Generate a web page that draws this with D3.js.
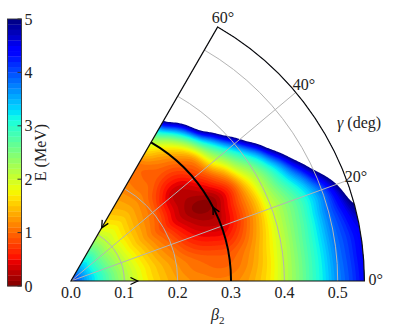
<!DOCTYPE html>
<html>
<head>
<meta charset="utf-8">
<script src="https://cdn.jsdelivr.net/npm/d3@7"></script>
<style>
body { margin: 0; background: #fff; }
text { font-family: "Liberation Serif", "DejaVu Serif", serif; fill: #222; }
</style>
</head>
<body>
<div id="chart"></div>
<script>
// energy surface E(beta2, gamma), MeV (values past the white edge just mean "above 5")
var betas = [0, 0.025, 0.05, 0.075, 0.1, 0.125, 0.15, 0.175, 0.2, 0.225, 0.25, 0.275,
             0.3, 0.325, 0.35, 0.375, 0.4, 0.425, 0.45, 0.475, 0.5, 0.525, 0.55];
var gammas = [0, 5, 10, 15, 20, 25, 30, 35, 40, 45, 50, 55, 60];
var energy = [
  [4.2, 3.6, 3.1, 2.65, 2.25, 1.92, 1.65, 1.45, 1.3, 1.2, 1.15, 1.12, 1.15, 1.25, 1.45, 1.72, 2.1, 2.45, 2.85, 3.25, 3.7, 4.05, 4.4],
  [4.2, 3.6, 3.1, 2.63, 2.22, 1.9, 1.62, 1.42, 1.25, 1.12, 1.05, 1.0, 1.02, 1.15, 1.38, 1.68, 2.08, 2.45, 2.85, 3.27, 3.75, 4.1, 4.45],
  [4.2, 3.6, 3.1, 2.62, 2.2, 1.88, 1.6, 1.38, 1.2, 1.05, 0.95, 0.9, 0.9, 1.05, 1.3, 1.65, 2.05, 2.45, 2.85, 3.3, 3.8, 4.15, 4.5],
  [4.2, 3.6, 3.08, 2.58, 2.18, 1.84, 1.55, 1.3, 1.1, 0.88, 0.72, 0.64, 0.62, 0.82, 1.15, 1.55, 2.02, 2.42, 2.8, 3.3, 3.85, 4.35, 4.95],
  [4.2, 3.6, 3.05, 2.55, 2.15, 1.8, 1.5, 1.23, 1.0, 0.72, 0.5, 0.38, 0.35, 0.6, 1.0, 1.45, 2.0, 2.4, 2.8, 3.3, 3.92, 4.8, 5.75],
  [4.2, 3.6, 3.02, 2.52, 2.12, 1.76, 1.45, 1.16, 0.9, 0.58, 0.33, 0.18, 0.2, 0.5, 0.95, 1.45, 2.1, 2.63, 3.21, 3.97, 5.09, 6.2, 7.3],
  [4.2, 3.6, 3.0, 2.5, 2.1, 1.72, 1.4, 1.1, 0.8, 0.45, 0.2, 0.05, 0.1, 0.4, 0.9, 1.63, 2.28, 2.97, 3.96, 5.41, 6.9, 8.4, 9.8],
  [4.2, 3.6, 3.0, 2.49, 2.08, 1.72, 1.42, 1.16, 0.9, 0.52, 0.25, 0.2, 0.37, 0.75, 1.3, 2.15, 2.88, 3.95, 5.7, 7.5, 9.3, 10, 10],
  [4.2, 3.6, 3.0, 2.48, 2.05, 1.72, 1.45, 1.22, 1.0, 0.6, 0.3, 0.35, 0.65, 1.1, 1.94, 2.79, 4.0, 5.9, 7.8, 9.7, 10, 10, 10],
  [4.2, 3.6, 3.05, 2.52, 2.08, 1.76, 1.5, 1.28, 1.08, 0.8, 0.6, 0.65, 0.9, 1.3, 2.44, 3.83, 5.85, 7.9, 10, 10, 10, 10, 10],
  [4.2, 3.6, 3.1, 2.55, 2.1, 1.8, 1.55, 1.33, 1.15, 1.0, 0.9, 0.95, 1.2, 1.8, 3.17, 5.45, 7.7, 10, 10, 10, 10, 10, 10],
  [4.2, 3.6, 3.05, 2.55, 2.08, 1.75, 1.5, 1.32, 1.15, 1.04, 0.98, 1.2, 1.6, 2.47, 4.09, 6.4, 8.7, 10, 10, 10, 10, 10, 10],
  [4.2, 3.6, 3.0, 2.55, 2.05, 1.7, 1.45, 1.3, 1.15, 1.08, 1.05, 1.48, 2.07, 3.25, 5.3, 7.8, 10, 10, 10, 10, 10, 10, 10]
];
var levels = [0, 0.1, 0.2, 0.3, 0.4, 0.5, 0.6, 0.7, 0.8, 0.9, 1.0, 1.1, 1.2, 1.3, 1.4, 1.5, 1.6, 1.7,
              1.8, 1.9, 2.0, 2.1, 2.2, 2.3, 2.4, 2.5, 2.6, 2.7, 2.8, 2.9, 3.0, 3.1, 3.2, 3.3, 3.4,
              3.5, 3.6, 3.7, 3.8, 3.9, 4.0, 4.1, 4.2, 4.3, 4.4, 4.5, 4.6, 4.7, 4.8, 4.9, 5.0];
var betaTicks = [0, 0.1, 0.2, 0.3, 0.4, 0.5];
var gridBetas = [0.1, 0.2, 0.3, 0.4, 0.5];
var gridGammas = [20, 40];
var gammaTicks = [0, 20, 40, 60];
var cbarTicks = [0, 1, 2, 3, 4, 5];
var loopBeta = 0.3;

var svgWidth = 399;
var svgHeight = 329;
var betaMax = 0.55, gammaMax = 60, eMax = 5;
var origin = {x: 71, y: 281};

var svg = d3.select("#chart").append("svg")
  .attr("width", svgWidth)
  .attr("height", svgHeight);

var rScale = d3.scaleLinear().domain([0, betaMax]).range([0, 293.4]);

function polar(b, g) {
  var a = g * Math.PI / 180;
  return [origin.x + rScale(b) * Math.cos(a), origin.y - rScale(b) * Math.sin(a)];
}

// matplotlib jet, reversed
var jetR = d3.scaleLinear().domain([0, 0.35, 0.66, 0.89, 1]).range([0, 0, 1, 1, 0.5]).clamp(true);
var jetG = d3.scaleLinear().domain([0, 0.125, 0.375, 0.64, 0.91, 1]).range([0, 0, 1, 1, 0, 0]).clamp(true);
var jetB = d3.scaleLinear().domain([0, 0.11, 0.34, 0.65, 1]).range([0.5, 1, 1, 0, 0]).clamp(true);
var color = d3.scaleSequential(function(t) {
  var u = 1 - t;
  return d3.rgb(255 * jetR(u), 255 * jetG(u), 255 * jetB(u)).toString();
}).domain([0, eMax]);

// smooth (catmull-rom) lookup in the read grid
function cr(p0, p1, p2, p3, t) {
  return p1 + 0.5 * t * (p2 - p0 + t * (2 * p0 - 5 * p1 + 4 * p2 - p3 + t * (3 * (p1 - p2) + p3 - p0)));
}
function at(j, i) {
  j = Math.max(0, Math.min(gammas.length - 1, j));
  i = Math.max(0, Math.min(betas.length - 1, i));
  return energy[j][i];
}
function sampleE(b, g) {
  var fi = b / (betas[1] - betas[0]), fj = g / (gammas[1] - gammas[0]);
  var i = Math.min(Math.floor(fi), betas.length - 2), j = Math.min(Math.floor(fj), gammas.length - 2);
  var ti = fi - i, tj = fj - j;
  var rows = [];
  for (var k = -1; k <= 2; k++) {
    rows.push(cr(at(j + k, i - 1), at(j + k, i), at(j + k, i + 1), at(j + k, i + 2), ti));
  }
  return cr(rows[0], rows[1], rows[2], rows[3], tj);
}

var nb = 221, ng = 121;
var db = betaMax / (nb - 1), dg = gammaMax / (ng - 1);
var values = new Array(nb * ng);
for (var y = 0; y < ng; y++) {
  for (var x = 0; x < nb; x++) {
    values[y * nb + x] = sampleE(x * db, y * dg);
  }
}

var contours = d3.contours().size([nb, ng]).thresholds(levels)(values);

function ringPath(ring) {
  return "M" + ring.map(function(p) {
    var b = Math.max(0, Math.min(betaMax, (p[0] - 0.5) * db));
    var g = Math.max(0, Math.min(gammaMax, (p[1] - 0.5) * dg));
    return polar(b, g).join(",");
  }).join("L") + "Z";
}

// clip to the sector
var sector = d3.path();
sector.moveTo(origin.x, origin.y);
sector.lineTo(polar(betaMax, 0)[0], polar(betaMax, 0)[1]);
sector.arc(origin.x, origin.y, rScale(betaMax), 0, -Math.PI / 3, true);
sector.closePath();

svg.append("clipPath").attr("id", "sec")
  .append("path").attr("d", sector.toString());

var surf = svg.append("g").attr("clip-path", "url(#sec)");
surf.selectAll("path")
  .data(contours)
  .enter().append("path")
  .attr("d", function(c) {
    return c.coordinates.map(function(poly) { return poly.map(ringPath).join(""); }).join("");
  })
  .attr("fill-rule", "evenodd")
  .attr("fill", function(c) { return c.value >= eMax ? "#fff" : color(c.value + 0.05); });

// grid
var grid = svg.append("g").attr("fill", "none").attr("stroke", "#b4b4b4").attr("stroke-width", 1);
gridBetas.forEach(function(b) {
  var p = d3.path();
  var s = polar(b, 0);
  p.moveTo(s[0], s[1]);
  p.arc(origin.x, origin.y, rScale(b), 0, -Math.PI / 3, true);
  grid.append("path").attr("d", p.toString());
});
gridGammas.forEach(function(g) {
  var e = polar(betaMax, g);
  grid.append("line")
    .attr("x1", origin.x).attr("y1", origin.y)
    .attr("x2", e[0]).attr("y2", e[1]);
});

// sector outline
svg.append("path")
  .attr("d", sector.toString())
  .attr("fill", "none")
  .attr("stroke", "#111")
  .attr("stroke-width", 1.2);

// the closed loop at beta = 0.3
var loop = d3.path();
var l0 = polar(loopBeta, 0);
loop.moveTo(l0[0], l0[1]);
loop.arc(origin.x, origin.y, rScale(loopBeta), 0, -Math.PI / 3, true);
svg.append("path")
  .attr("d", loop.toString())
  .attr("fill", "none")
  .attr("stroke", "#000")
  .attr("stroke-width", 2);

function chevron(tip, ang) {
  var L = 8, th = 26 * Math.PI / 180;
  var a1 = ang + Math.PI - th, a2 = ang + Math.PI + th;
  return "M" + (tip[0] + L * Math.cos(a1)) + "," + (tip[1] + L * Math.sin(a1)) +
    "L" + tip[0] + "," + tip[1] +
    "L" + (tip[0] + L * Math.cos(a2)) + "," + (tip[1] + L * Math.sin(a2));
}
var ga = 27.5 * Math.PI / 180;
var arrows = [
  {tip: polar(0.125, 0), ang: 0},
  {tip: polar(0.115, 60), ang: Math.atan2(Math.sin(Math.PI / 3), -Math.cos(Math.PI / 3))},
  {tip: polar(loopBeta, 27.5), ang: Math.atan2(-Math.cos(ga), -Math.sin(ga))}
];
svg.append("g").selectAll("path")
  .data(arrows)
  .enter().append("path")
  .attr("d", function(d) { return chevron(d.tip, d.ang); })
  .attr("fill", "none")
  .attr("stroke", "#000")
  .attr("stroke-width", 1.3);

// beta tick labels
svg.append("g").selectAll("text")
  .data(betaTicks)
  .enter().append("text")
  .attr("x", function(d) { return polar(d, 0)[0]; })
  .attr("y", origin.y + 17)
  .attr("text-anchor", "middle")
  .attr("font-size", 16)
  .text(function(d) { return d.toFixed(1); });

var bl = svg.append("text")
  .attr("x", polar(betaMax / 2, 0)[0])
  .attr("y", 320)
  .attr("text-anchor", "middle")
  .attr("font-size", 16);
bl.append("tspan").attr("font-style", "italic").text("β");
bl.append("tspan").attr("font-size", 11).attr("dy", 4).text("2");

// gamma labels
var gOff = {0: [4, 4], 20: [-2, 1], 40: [-3, -2], 60: [-6, -4]};
svg.append("g").selectAll("text")
  .data(gammaTicks)
  .enter().append("text")
  .attr("x", function(d) { return polar(betaMax, d)[0] + gOff[d][0]; })
  .attr("y", function(d) { return polar(betaMax, d)[1] + gOff[d][1]; })
  .attr("font-size", 16)
  .text(function(d) { return d + "°"; });

var gl = svg.append("text")
  .attr("x", 337)
  .attr("y", 128)
  .attr("font-size", 16);
gl.append("tspan").attr("font-style", "italic").text("γ");
gl.append("tspan").text(" (deg)");

// colorbar
var cb = {x: 7.5, w: 14};
var cScale = d3.scaleLinear().domain([0, eMax]).range([286, 19]);
var cbar = svg.append("g");
cbar.selectAll("rect")
  .data(levels.slice(0, -1))
  .enter().append("rect")
  .attr("x", cb.x)
  .attr("y", function(d) { return cScale(d + 0.1); })
  .attr("width", cb.w)
  .attr("height", function(d) { return cScale(d) - cScale(d + 0.1) + 0.3; })
  .attr("fill", function(d) { return color(d + 0.05); });
cbar.append("rect")
  .attr("x", cb.x).attr("y", cScale(eMax))
  .attr("width", cb.w).attr("height", cScale(0) - cScale(eMax))
  .attr("fill", "none").attr("stroke", "#333").attr("stroke-width", 0.9);
cbar.selectAll("line")
  .data(cbarTicks)
  .enter().append("line")
  .attr("x1", cb.x + cb.w - 4).attr("x2", cb.x + cb.w)
  .attr("y1", function(d) { return cScale(d); })
  .attr("y2", function(d) { return cScale(d); })
  .attr("stroke", "#333");
cbar.selectAll("text")
  .data(cbarTicks)
  .enter().append("text")
  .attr("x", cb.x + cb.w + 3)
  .attr("y", function(d) { return cScale(d); })
  .attr("dy", "0.35em")
  .attr("font-size", 16)
  .text(function(d) { return d; });

svg.append("text")
  .attr("transform", "translate(46," + cScale(eMax / 2) + ") rotate(-90)")
  .attr("text-anchor", "middle")
  .attr("font-size", 16)
  .text("E (MeV)");
</script>
</body>
</html>
